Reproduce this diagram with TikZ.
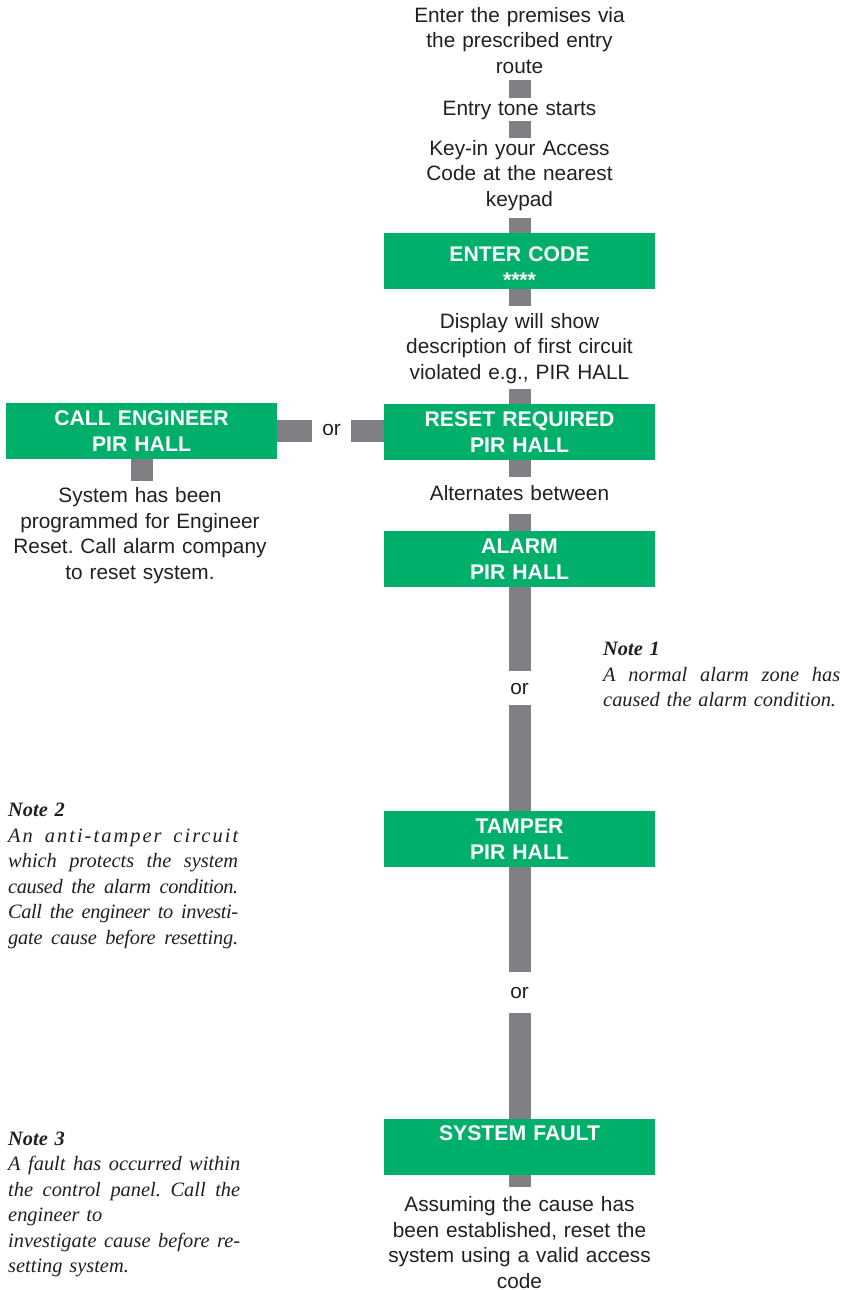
\documentclass[tikz,border=0pt]{standalone}
\usepackage{fontspec}
\newfontfamily\sansA{Liberation Sans}
\newfontfamily\serifA{Liberation Serif}
\definecolor{boxgreen}{RGB}{0,176,106}
\definecolor{bargray}{RGB}{128,128,132}
\definecolor{ink}{RGB}{35,31,32}
\newcommand\jl[2]{\leavevmode\hbox to #1{\spaceskip=.2em plus 1fil\xspaceskip=.2em plus 1fil\relax #2}}
\tikzset{
  bar/.style={draw=bargray, line width=22pt},
  gbox/.style={rectangle, fill=boxgreen, minimum width=271pt, minimum height=56pt,
    inner sep=0pt, text width=271pt, align=center, text=white,
    font=\sansA\bfseries\frenchspacing\fontsize{21.2}{26}\selectfont, text height=10pt, text depth=22pt},
  txt/.style={inner sep=0pt, text width=300pt, align=center, text=ink, anchor=base,
    font=\sansA\frenchspacing\fontsize{20.8}{25.5}\selectfont},
  note/.style={inner sep=0pt, align=left, text=ink, anchor=base west,
    font=\serifA\itshape\frenchspacing\fontsize{20.4}{25.5}\selectfont},
}
\begin{document}
\begin{tikzpicture}[x=1pt,y=-1pt]
\useasboundingbox (0,0) rectangle (846,1290);
% main column
\node[txt, text height=22.5pt, text depth=57.5pt] (t1) at (519.5,22.5)
  {Enter the premises via\\the prescribed entry\\route};
\node[txt, text height=17pt, text depth=6pt] (t2) at (519.5,115) {Entry tone starts};
\node[txt, text height=17pt, text depth=63pt] (t3) at (519.5,155)
  {Key-in your Access\\Code at the nearest\\keypad};
\node[gbox, text height=10pt, text depth=10pt] (enter) at (519.5,261) {ENTER CODE\\{}****};
\node[txt, text height=22pt, text depth=60.5pt] (t4) at (519.5,328)
  {Display will show\\description of first circuit\\violated e.g., PIR HALL};
\node[gbox] (reset) at (519.5,432) {RESET REQUIRED\\PIR HALL};
\node[txt, text height=23.5pt, text depth=13.5pt] (t5) at (519.5,500.5) {Alternates between};
\node[gbox] (alarm) at (519.5,559) {ALARM\\PIR HALL};
\node[txt, text height=23pt, text depth=11pt] (or1) at (519.5,694) {or};
\node[gbox] (tamper) at (519.5,839) {TAMPER\\PIR HALL};
\node[txt, text height=26pt, text depth=15pt] (or2) at (519.5,998) {or};
\node[gbox, text height=10pt, text depth=24pt] (fault) at (519.5,1147) {SYSTEM FAULT};
\node[txt, text height=24.5pt, text depth=80pt] (t6) at (519.5,1211.5)
  {Assuming the cause has\\been established, reset the\\system using a valid access\\code};
% left branch
\node[gbox] (call) at (141.5,431) {CALL ENGINEER\\PIR HALL};
\node[txt, text width=39pt, text height=12pt, text depth=4pt] (orh) at (331.5,435) {or};
\node[txt, text height=21.7pt, text depth=80pt] (t7) at (140,502.7)
  {System has been\\programmed for Engineer\\Reset. Call alarm company\\to reset system.};
% connectors
\draw[bar] (t1.south) -- (t2.north);
\draw[bar] (t2.south) -- (t3.north);
\draw[bar] (t3.south) -- (enter.north);
\draw[bar] (enter.south) -- (t4.north);
\draw[bar] (t4.south) -- (reset.north);
\draw[bar] (reset.south) -- (t5.north);
\draw[bar] (t5.south) -- (alarm.north);
\draw[bar] (alarm.south) -- (or1.north);
\draw[bar] (or1.south) -- (tamper.north);
\draw[bar] (tamper.south) -- (or2.north);
\draw[bar] (or2.south) -- (fault.north);
\draw[bar] (fault.south) -- (t6.north);
\draw[bar] (call.east) -- (orh.west);
\draw[bar] (orh.east) -- (orh.east -| reset.west);
\draw[bar] (call.south) -- (call.south |- t7.north);
% notes
\node[note, text width=237pt] (n1) at (603,655.7)
  {\textbf{Note 1}\\
   \jl{237pt}{A normal alarm zone has}\\
   caused the alarm condition.};
\node[note, text width=230pt] (n2) at (8,816.7)
  {\textbf{Note 2}\\
   \jl{230pt}{\addfontfeature{LetterSpace=10}An anti-tamper circuit}\\
   \jl{230pt}{which protects the system}\\
   \jl{230pt}{\addfontfeature{LetterSpace=-2}caused the alarm condition.}\\
   \jl{230pt}{\addfontfeature{LetterSpace=-2}Call the engineer to investi-}\\
   \jl{230pt}{\addfontfeature{LetterSpace=-1}gate cause before resetting.}};
\node[note, text width=232pt] (n3) at (8,1145.3)
  {\textbf{Note 3}\\
   \jl{232pt}{A fault has occurred within}\\
   \jl{232pt}{the control panel. Call the}\\
   engineer to\\
   \jl{232pt}{investigate cause before re-}\\
   setting system.};
\end{tikzpicture}
\end{document}
